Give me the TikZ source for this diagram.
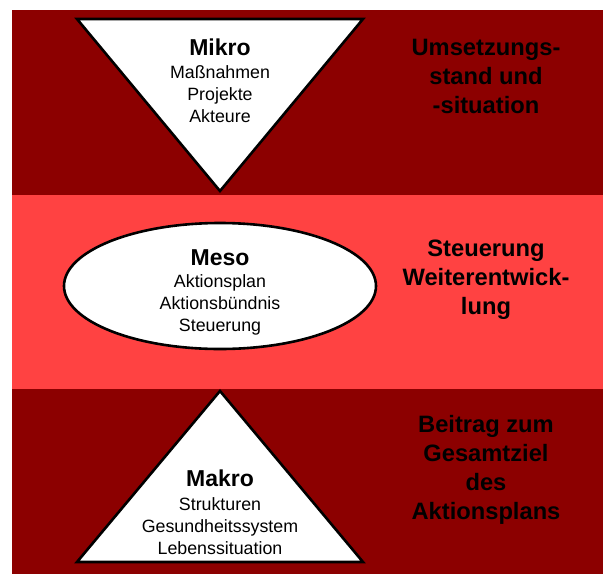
\documentclass[tikz,border=0pt]{standalone}
\usepackage{fontspec}
\setmainfont{Liberation Sans}
\usetikzlibrary{shapes.geometric}
\definecolor{bandDark}{RGB}{140,0,0}
\definecolor{bandLight}{RGB}{255,66,66}
\tikzset{
  figure/.style={draw=black, line width=2.6pt, fill=white, line join=miter},
  head/.style={font=\fontsize{23}{27}\selectfont\bfseries, inner sep=0pt},
  body/.style={font=\fontsize{17.8}{21.7}\selectfont, align=center, inner sep=0pt},
  side/.style={font=\fontsize{23.7}{29}\selectfont\bfseries, align=center, inner sep=0pt}
}
\begin{document}
\begin{tikzpicture}[x=1pt, y=-1pt]
  \useasboundingbox (0,0) rectangle (603,574);
  % three horizontal bands
  \fill[bandDark]  (12,10)  rectangle (603,194.5);
  \fill[bandLight] (12,194.5) rectangle (603,389);
  \fill[bandDark]  (12,389) rectangle (603,574);

  % level figures
  \draw[figure] (77,19) -- (363,19) -- (220,191) -- cycle;
  \node[figure, ellipse, minimum width=312pt, minimum height=126pt, inner sep=0pt] (meso) at (220,286) {};
  \draw[figure] (220,391) -- (363,562) -- (77,562) -- cycle;

  % Mikro
  \node[head] (mikroHead) at (220,47) {Mikro};
  \node[body] (mikroBody) at (220,94) {Maßnahmen\\Projekte\\Akteure};
  % Meso
  \node[head] (mesoHead) at (220,258) {Meso};
  \node[body] (mesoBody) at (220,305) {Aktionsplan\\Aktionsbündnis\\Steuerung};
  % Makro
  \node[head] (makroHead) at (220,478) {Makro};
  \node[body] (makroBody) at (220,526) {Strukturen\\Gesundheitssystem\\Lebenssituation};

  % right-hand descriptions
  \node[side] (topText) at (486,76) {Umsetzungs-\\stand und\\-situation};
  \node[side] (midText) at (486,280) {Steuerung\\Weiterentwick-\\lung};
  \node[side] (botText) at (486,470) {Beitrag zum\\Gesamtziel\\des\\Aktionsplans};
\end{tikzpicture}
\end{document}
